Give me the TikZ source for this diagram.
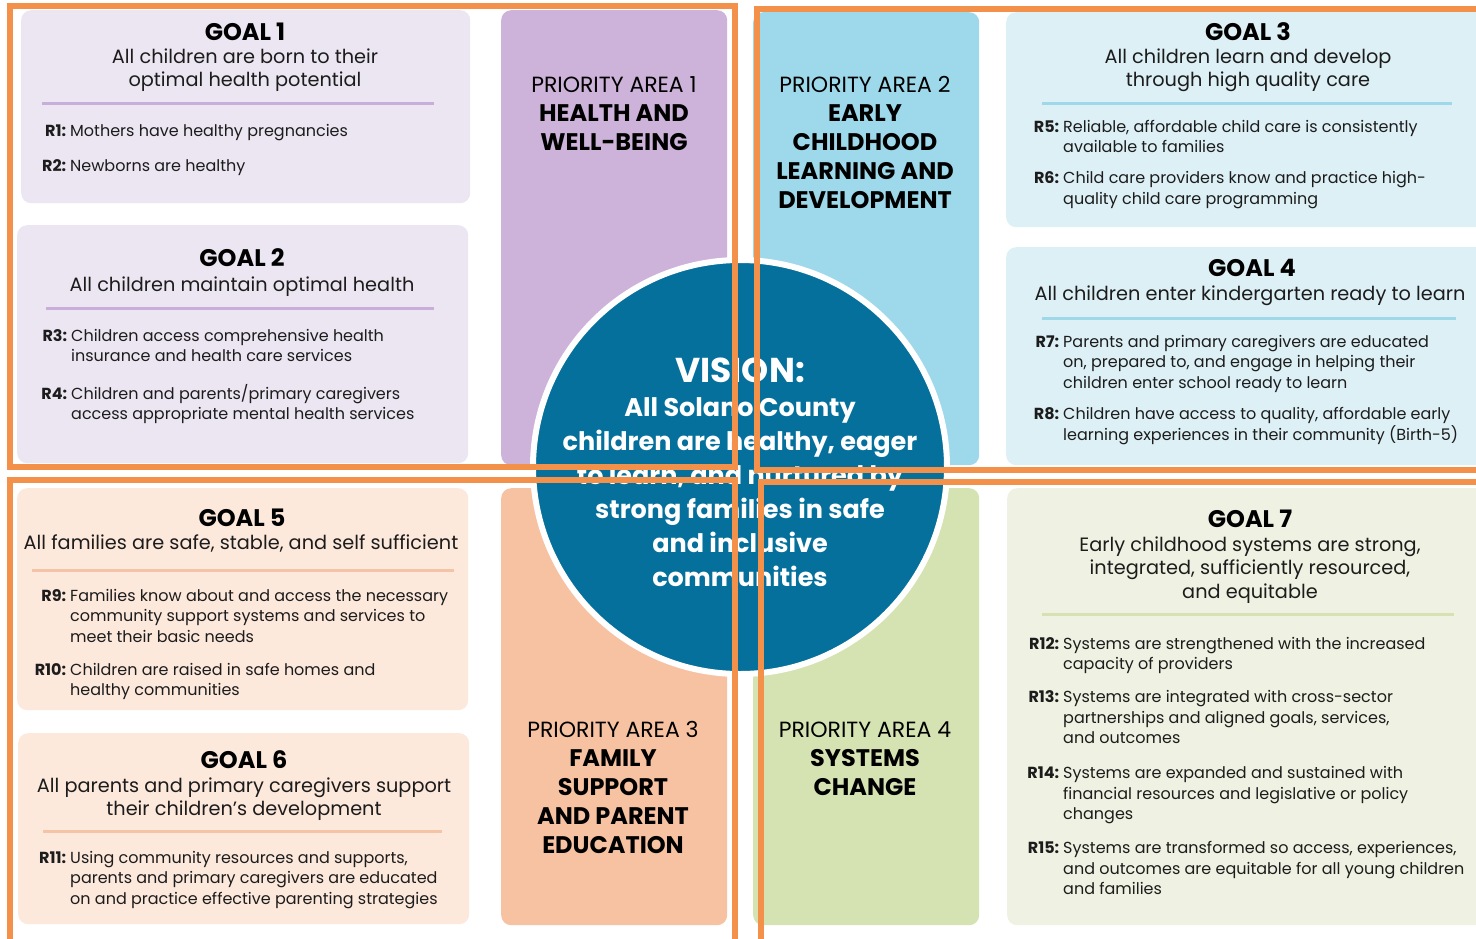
\documentclass[tikz,border=0pt]{standalone}
\usepackage{fontspec}
\setmainfont{Poppins}
\definecolor{lav}{HTML}{ECE6F2}
\definecolor{lavsep}{HTML}{C8AFD9}
\definecolor{paone}{HTML}{CDB2D9}
\definecolor{sky}{HTML}{DDF0F6}
\definecolor{skysep}{HTML}{9ED8E9}
\definecolor{patwo}{HTML}{9DD9EA}
\definecolor{peach}{HTML}{FDE8DC}
\definecolor{peachsep}{HTML}{F5C4A6}
\definecolor{pathree}{HTML}{F6C2A2}
\definecolor{sage}{HTML}{EFF1E2}
\definecolor{sagesep}{HTML}{D6E2B1}
\definecolor{pafour}{HTML}{D5E2B2}
\definecolor{orng}{HTML}{F3914A}
\definecolor{vis}{HTML}{04709B}
\definecolor{ink}{HTML}{1C1C1C}
\newcommand\rl[1]{\llap{\textbf{#1}\hspace{4pt}}}
\newcommand\ml[1]{\begin{tabular}[t]{@{}c@{}}#1\end{tabular}}
\newcommand\mll[1]{\begin{tabular}[t]{@{}l@{}}#1\end{tabular}}
\newcommand\pab{\fontsize{24}{29}\selectfont\bfseries}
\newcommand\vtitle{\fontsize{34.5}{34}\selectfont\bfseries}
\begin{document}
\begin{tikzpicture}[x=1pt,y=-1pt,
  box/.style={rounded corners=10pt, draw=none, inner sep=0pt, anchor=north west},
  sepline/.style={line width=3pt},
  gtitle/.style={font=\fontsize{24}{27}\selectfont\bfseries, anchor=base, inner sep=0pt, text=black},
  gstate/.style={font=\fontsize{19.3}{23.5}\selectfont, anchor=base, inner sep=0pt, text=ink},
  res/.style={font=\fontsize{16}{20.5}\selectfont, anchor=base west, inner sep=0pt, text=ink},
  patext/.style={font=\fontsize{22}{29}\selectfont, anchor=base, inner sep=0pt, text=black},
  vistext/.style={font=\fontsize{25.5}{34}\selectfont\bfseries, anchor=base, inner sep=0pt, text=white},
  frame/.style={draw=orng, line width=6pt}
]
\useasboundingbox (0,0) rectangle (1476,938);
\clip (0,0) rectangle (1476,938);
\fill[white] (0,0) rectangle (1476,938);

% priority columns
\node[box, fill=paone, minimum width=226pt, minimum height=455pt] (pa1) at (501,10) {};
\node[box, fill=patwo, minimum width=226pt, minimum height=453pt] (pa2) at (753,12) {};
\node[box, fill=pathree, minimum width=226pt, minimum height=437pt] (pa3) at (501,488) {};
\node[box, fill=pafour, minimum width=226pt, minimum height=437pt] (pa4) at (753,488) {};

% goal boxes
\node[box, fill=lav, minimum width=449pt, minimum height=193pt] (g1) at (21,10) {};
\node[box, fill=lav, minimum width=451pt, minimum height=238pt] (g2) at (17,225) {};
\node[box, fill=sky, minimum width=500pt, minimum height=215pt] (g3) at (1006,12) {};
\node[box, fill=sky, minimum width=500pt, minimum height=218pt] (g4) at (1006,247) {};
\node[box, fill=peach, minimum width=451pt, minimum height=222pt] (g5) at (17,488) {};
\node[box, fill=peach, minimum width=451pt, minimum height=191pt] (g6) at (18,733) {};
\node[box, fill=sage, minimum width=500pt, minimum height=437pt] (g7) at (1007,488) {};

% separators
\draw[sepline, lavsep] (42,103) -- (434,103);
\draw[sepline, lavsep] (46,308) -- (434,308);
\draw[sepline, skysep] (1042,103) -- (1452,103);
\draw[sepline, skysep] (1042,318) -- (1456,318);
\draw[sepline, peachsep] (32,570) -- (454,570);
\draw[sepline, peachsep] (43,831) -- (442,831);
\draw[sepline, sagesep] (1042,614) -- (1454,614);

% goal 1
\node[gtitle] (g1t) at (245,40) {GOAL 1};
\node[gstate] (g1s) at (245,63) {\ml{All children are born to their\\optimal health potential}};
\node[res] (g1r) at (70,136) {\mll{\rl{R1:}Mothers have healthy pregnancies\\[14.5pt]\rl{R2:}Newborns are healthy}};
% goal 2
\node[gtitle] (g2t) at (242,266) {GOAL 2};
\node[gstate] (g2s) at (242,291) {\ml{All children maintain optimal health}};
\node[res] (g2r) at (71,341) {\mll{\rl{R3:}Children access comprehensive health\\insurance and health care services\\[16.5pt]\rl{R4:}Children and parents/primary caregivers\\access appropriate mental health services}};
% goal 3
\node[gtitle] (g3t) at (1248,40) {GOAL 3};
\node[gstate] (g3s) at (1248,63) {\ml{All children learn and develop\\through high quality care}};
\node[res] (g3r) at (1063,132) {\mll{\rl{R5:}Reliable, affordable child care is consistently\\available to families\\[10.5pt]\rl{R6:}Child care providers know and practice high-\\quality child care programming}};
% goal 4
\node[gtitle] (g4t) at (1252,276) {GOAL 4};
\node[gstate] (g4s) at (1250,300) {\ml{All children enter kindergarten ready to learn}};
\node[res] (g4r) at (1063,347) {\mll{\rl{R7:}Parents and primary caregivers are educated\\on, prepared to, and engage in helping their\\children enter school ready to learn\\[10.5pt]\rl{R8:}Children have access to quality, affordable early\\learning experiences in their community (Birth-5)}};
% goal 5
\node[gtitle] (g5t) at (242,526) {GOAL 5};
\node[gstate] (g5s) at (241,549) {\ml{All families are safe, stable, and self sufficient}};
\node[res] (g5r) at (70,601) {\mll{\rl{R9:}Families know about and access the necessary\\community support systems and services to\\meet their basic needs\\[12.5pt]\rl{R10:}Children are raised in safe homes and\\healthy communities}};
% goal 6
\node[gtitle] (g6t) at (244,768) {GOAL 6};
\node[gstate] (g6s) at (244,792) {\ml{All parents and primary caregivers support\\their children’s development}};
\node[res] (g6r) at (70,863) {\mll{\rl{R11:}Using community resources and supports,\\parents and primary caregivers are educated\\on and practice effective parenting strategies}};
% goal 7
\node[gtitle] (g7t) at (1250,527) {GOAL 7};
\node[gstate] (g7s) at (1250,551) {\ml{Early childhood systems are strong,\\integrated, sufficiently resourced,\\and equitable}};
\node[res] (g7r) at (1063,649) {\mll{\rl{R12:}Systems are strengthened with the increased\\capacity of providers\\[12.5pt]\rl{R13:}Systems are integrated with cross-sector\\partnerships and aligned goals, services,\\and outcomes\\[14.5pt]\rl{R14:}Systems are expanded and sustained with\\financial resources and legislative or policy\\changes\\[13.5pt]\rl{R15:}Systems are transformed so access, experiences,\\and outcomes are equitable for all young children\\and families}};

% priority texts
\node[patext] (pa1t) at (614,92) {\ml{PRIORITY AREA 1\\\pab HEALTH AND\\\pab WELL-BEING}};
\node[patext] (pa2t) at (865,92) {\ml{PRIORITY AREA 2\\\pab EARLY\\\pab CHILDHOOD\\\pab LEARNING AND\\\pab DEVELOPMENT}};
\node[patext] (pa3t) at (613,737) {\ml{PRIORITY AREA 3\\\pab FAMILY\\\pab SUPPORT\\\pab AND PARENT\\\pab EDUCATION}};
\node[patext] (pa4t) at (865,737) {\ml{PRIORITY AREA 4\\\pab SYSTEMS\\\pab CHANGE}};

% vision circle
\node[circle, fill=vis, draw=white, line width=6pt, minimum size=414pt, inner sep=0pt] (vc) at (740,467) {};
\node[vistext] (vt) at (740,382) {\ml{\vtitle VISION:\\All Solano County\\children are healthy, eager\\to learn, and nurtured by\\strong families in safe\\and inclusive\\communities}};

% orange frames
\draw[frame] (10,6) rectangle (735,467);
\draw[frame] (1490,9) -- (757,9) -- (757,470) -- (1490,470);
\draw[frame] (10,960) -- (10,480) -- (735,480) -- (735,960);
\draw[frame] (1490,482) -- (761,482) -- (761,960);
\end{tikzpicture}
\end{document}
